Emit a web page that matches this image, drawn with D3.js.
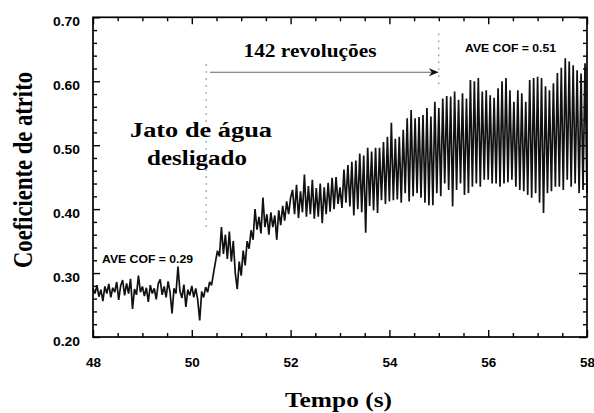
<!DOCTYPE html>
<html>
<head>
<meta charset="utf-8">
<script src="https://cdn.jsdelivr.net/npm/d3@7"></script>
<style>
  html, body { margin: 0; padding: 0; background: #fff; }
  svg { display: block; }
</style>
</head>
<body>
<svg id="chart" width="594" height="413"></svg>
<script>
// ---------------- data ----------------
const timeStart = 48;      // s, first sample
const sampleStep = 0.04;   // s, sample interval of the trace
// coefficient of friction (48 s .. 58 s)
const cof = [
  0.276,0.268,0.281,0.263,0.274,0.256,0.279,0.268,0.283,0.262,
  0.277,0.270,0.286,0.258,0.280,0.289,0.265,0.284,0.268,0.291,
  0.244,0.275,0.266,0.296,0.270,0.279,0.264,0.277,0.255,0.281,
  0.268,0.276,0.259,0.283,0.290,0.266,0.279,0.262,0.287,0.270,
  0.237,0.276,0.268,0.310,0.272,0.261,0.282,0.247,0.274,0.265,
  0.280,0.262,0.276,0.258,0.226,0.271,0.262,0.278,
  0.270,0.286,0.281,0.300,0.318,0.335,0.326,0.372,0.330,0.360,
  0.322,0.365,0.318,0.350,0.300,0.275,0.318,0.296,0.335,0.312,
  0.350,0.338,0.367,0.352,0.400,0.368,0.388,0.362,0.418,0.372,
  0.392,0.360,0.395,0.372,0.390,0.352,0.398,0.375,0.405,0.382,
  0.412,0.392,0.418,
  0.430,0.392, 0.438,0.386, 0.428,0.395, 0.454,0.388, 0.436,0.392,
  0.446,0.385, 0.433,0.388, 0.440,0.378, 0.434,0.392, 0.441,0.396,
  0.449,0.400, 0.450,0.408, 0.434,0.402, 0.462,0.410, 0.469,0.404,
  0.474,0.390, 0.476,0.400, 0.487,0.395, 0.484,0.363, 0.496,0.405,
  0.490,0.398, 0.496,0.394, 0.496,0.414, 0.505,0.408, 0.513,0.412,
  0.535,0.414, 0.510,0.415, 0.513,0.410, 0.524,0.425, 0.542,0.412,
  0.555,0.420, 0.542,0.425, 0.544,0.418, 0.547,0.410, 0.558,0.406,
  0.545,0.406, 0.568,0.425, 0.558,0.420, 0.573,0.440, 0.577,0.430,
  0.576,0.404, 0.584,0.430, 0.571,0.440, 0.581,0.422, 0.573,0.425,
  0.602,0.435, 0.600,0.440, 0.605,0.435, 0.584,0.446, 0.586,0.446,
  0.578,0.440, 0.574,0.440, 0.589,0.435, 0.600,0.440, 0.605,0.442,
  0.586,0.446, 0.568,0.435, 0.586,0.430, 0.581,0.428, 0.568,0.422,
  0.602,0.418, 0.605,0.425, 0.607,0.410, 0.605,0.394, 0.592,0.425,
  0.586,0.428, 0.597,0.435, 0.613,0.435, 0.621,0.430, 0.636,0.446,
  0.631,0.435, 0.625,0.440, 0.617,0.425, 0.612,0.430, 0.628,0.425
];

const xMajorTicks = [48, 50, 52, 54, 56, 58];
const xMinorTicks = [48.5, 49, 49.5, 50.5, 51, 51.5, 52.5, 53, 53.5, 54.5, 55, 55.5, 56.5, 57, 57.5];
const yMajorTicks = [0.20, 0.30, 0.40, 0.50, 0.60, 0.70];
const yMinorTicks = [0.22,0.24,0.26,0.28,0.32,0.34,0.36,0.38,0.42,0.44,0.46,0.48,0.52,0.54,0.56,0.58,0.62,0.64,0.66,0.68];

const xTitle = "Tempo (s)";
const yTitle = "Coeficiente de atrito";
const waterOffTime = 50.29;      // dotted marker: water jet switched off
const revEndTime = 55.0;         // dotted marker: end of 142 revolutions
const arrowY = 0.614;
const aveBefore = "AVE COF = 0.29";
const aveAfter = "AVE COF = 0.51";
const revLabel = "142 revoluções";
const jetLabel = ["Jato de água", "desligado"];

// ---------------- drawing ----------------
const svg = d3.select("#chart");
const x = d3.scaleLinear().domain([48, 58]).range([93, 587]);
const y = d3.scaleLinear().domain([0.2, 0.7]).range([337, 17.3]);

const sans = "'Liberation Sans', Arial, sans-serif";
const serif = "'Liberation Serif', 'Times New Roman', serif";

function styleAxis(g) {
  g.select(".domain").remove();
  g.selectAll(".tick line").attr("stroke", "#000").attr("stroke-width", 1.4);
  g.selectAll("text").attr("fill", "#000").attr("font-family", sans)
    .attr("font-weight", "bold").attr("font-size", 12);
}
// bottom
svg.append("g").attr("transform", `translate(0,${y(0.2)})`)
  .call(d3.axisBottom(x).tickValues(xMajorTicks).tickSize(-7).tickPadding(21.5).tickFormat(d3.format("d")))
  .call(styleAxis)
  .call(g => g.selectAll("text").attr("textLength", 15).attr("lengthAdjust", "spacingAndGlyphs"));
svg.append("g").attr("transform", `translate(0,${y(0.2)})`)
  .call(d3.axisBottom(x).tickValues(xMinorTicks).tickSize(-4).tickFormat(""))
  .call(styleAxis);
// top
svg.append("g").attr("transform", `translate(0,${y(0.7)})`)
  .call(d3.axisTop(x).tickValues(xMajorTicks).tickSize(-7).tickFormat(""))
  .call(styleAxis);
svg.append("g").attr("transform", `translate(0,${y(0.7)})`)
  .call(d3.axisTop(x).tickValues(xMinorTicks).tickSize(-4).tickFormat(""))
  .call(styleAxis);
// left
svg.append("g").attr("transform", `translate(${x(48)},0)`)
  .call(d3.axisLeft(y).tickValues(yMajorTicks).tickSize(-7).tickPadding(13).tickFormat(d3.format(".2f")))
  .call(styleAxis)
  .call(g => g.selectAll("text").attr("dy", "0.72em").attr("textLength", 27).attr("lengthAdjust", "spacingAndGlyphs"));
svg.append("g").attr("transform", `translate(${x(48)},0)`)
  .call(d3.axisLeft(y).tickValues(yMinorTicks).tickSize(-4).tickFormat(""))
  .call(styleAxis);
// right
svg.append("g").attr("transform", `translate(${x(58)},0)`)
  .call(d3.axisRight(y).tickValues(yMajorTicks).tickSize(-8).tickFormat(""))
  .call(styleAxis);
svg.append("g").attr("transform", `translate(${x(58)},0)`)
  .call(d3.axisRight(y).tickValues(yMinorTicks).tickSize(-4).tickFormat(""))
  .call(styleAxis);

// trace
const line = d3.line()
  .x((d, i) => x(timeStart + i * sampleStep))
  .y(d => y(d));
svg.append("path").datum(cof)
  .attr("d", line)
  .attr("fill", "none")
  .attr("stroke", "#111")
  .attr("stroke-width", 1.7)
  .attr("stroke-linejoin", "bevel");

// frame
svg.append("rect")
  .attr("x", x(48)).attr("y", y(0.7))
  .attr("width", x(58) - x(48)).attr("height", y(0.2) - y(0.7))
  .attr("fill", "none").attr("stroke", "#000").attr("stroke-width", 1.7);

// dotted markers
svg.append("line")
  .attr("x1", x(waterOffTime)).attr("x2", x(waterOffTime))
  .attr("y1", y(0.627)).attr("y2", y(0.371))
  .attr("stroke", "#888").attr("stroke-width", 1).attr("stroke-dasharray", "2,5");
svg.append("line")
  .attr("x1", x(revEndTime)).attr("x2", x(revEndTime))
  .attr("y1", y(0.675)).attr("y2", y(0.59))
  .attr("stroke", "#888").attr("stroke-width", 1).attr("stroke-dasharray", "2,5");

// arrow
const ax0 = x(50.37), ax1 = x(revEndTime), ay = y(arrowY);
svg.append("line")
  .attr("x1", ax0).attr("x2", ax1 - 4).attr("y1", ay).attr("y2", ay)
  .attr("stroke", "#666").attr("stroke-width", 1.1);
svg.append("path")
  .attr("d", `M${ax1},${ay} L${ax1 - 10},${ay - 4} L${ax1 - 7},${ay} L${ax1 - 10},${ay + 4} Z`)
  .attr("fill", "#111");

// annotation texts
svg.append("text").text(revLabel)
  .attr("x", 243.5).attr("y", 56.5)
  .attr("font-family", serif).attr("font-weight", "bold").attr("font-size", 19)
  .attr("textLength", 133).attr("lengthAdjust", "spacingAndGlyphs");

svg.append("text").text(jetLabel[0])
  .attr("x", 130).attr("y", 136.7)
  .attr("font-family", serif).attr("font-weight", "bold").attr("font-size", 20.5)
  .attr("textLength", 142).attr("lengthAdjust", "spacingAndGlyphs");
svg.append("text").text(jetLabel[1])
  .attr("x", 147).attr("y", 165)
  .attr("font-family", serif).attr("font-weight", "bold").attr("font-size", 20.5)
  .attr("textLength", 100).attr("lengthAdjust", "spacingAndGlyphs");

svg.append("text").text(aveBefore)
  .attr("x", 102).attr("y", 262.5)
  .attr("font-family", sans).attr("font-weight", "bold").attr("font-size", 11.5)
  .attr("textLength", 91).attr("lengthAdjust", "spacingAndGlyphs");
svg.append("text").text(aveAfter)
  .attr("x", 465).attr("y", 52.3)
  .attr("font-family", sans).attr("font-weight", "bold").attr("font-size", 11.5)
  .attr("textLength", 91).attr("lengthAdjust", "spacingAndGlyphs");

// axis titles
svg.append("text").text(xTitle)
  .attr("x", 285).attr("y", 406.5)
  .attr("font-family", serif).attr("font-weight", "bold").attr("font-size", 20)
  .attr("textLength", 107).attr("lengthAdjust", "spacingAndGlyphs");
svg.append("text").text(yTitle)
  .attr("transform", "translate(31.5,268) rotate(-90)")
  .attr("font-family", serif).attr("font-weight", "bold").attr("font-size", 27)
  .attr("textLength", 196).attr("lengthAdjust", "spacingAndGlyphs");
</script>
</body>
</html>
